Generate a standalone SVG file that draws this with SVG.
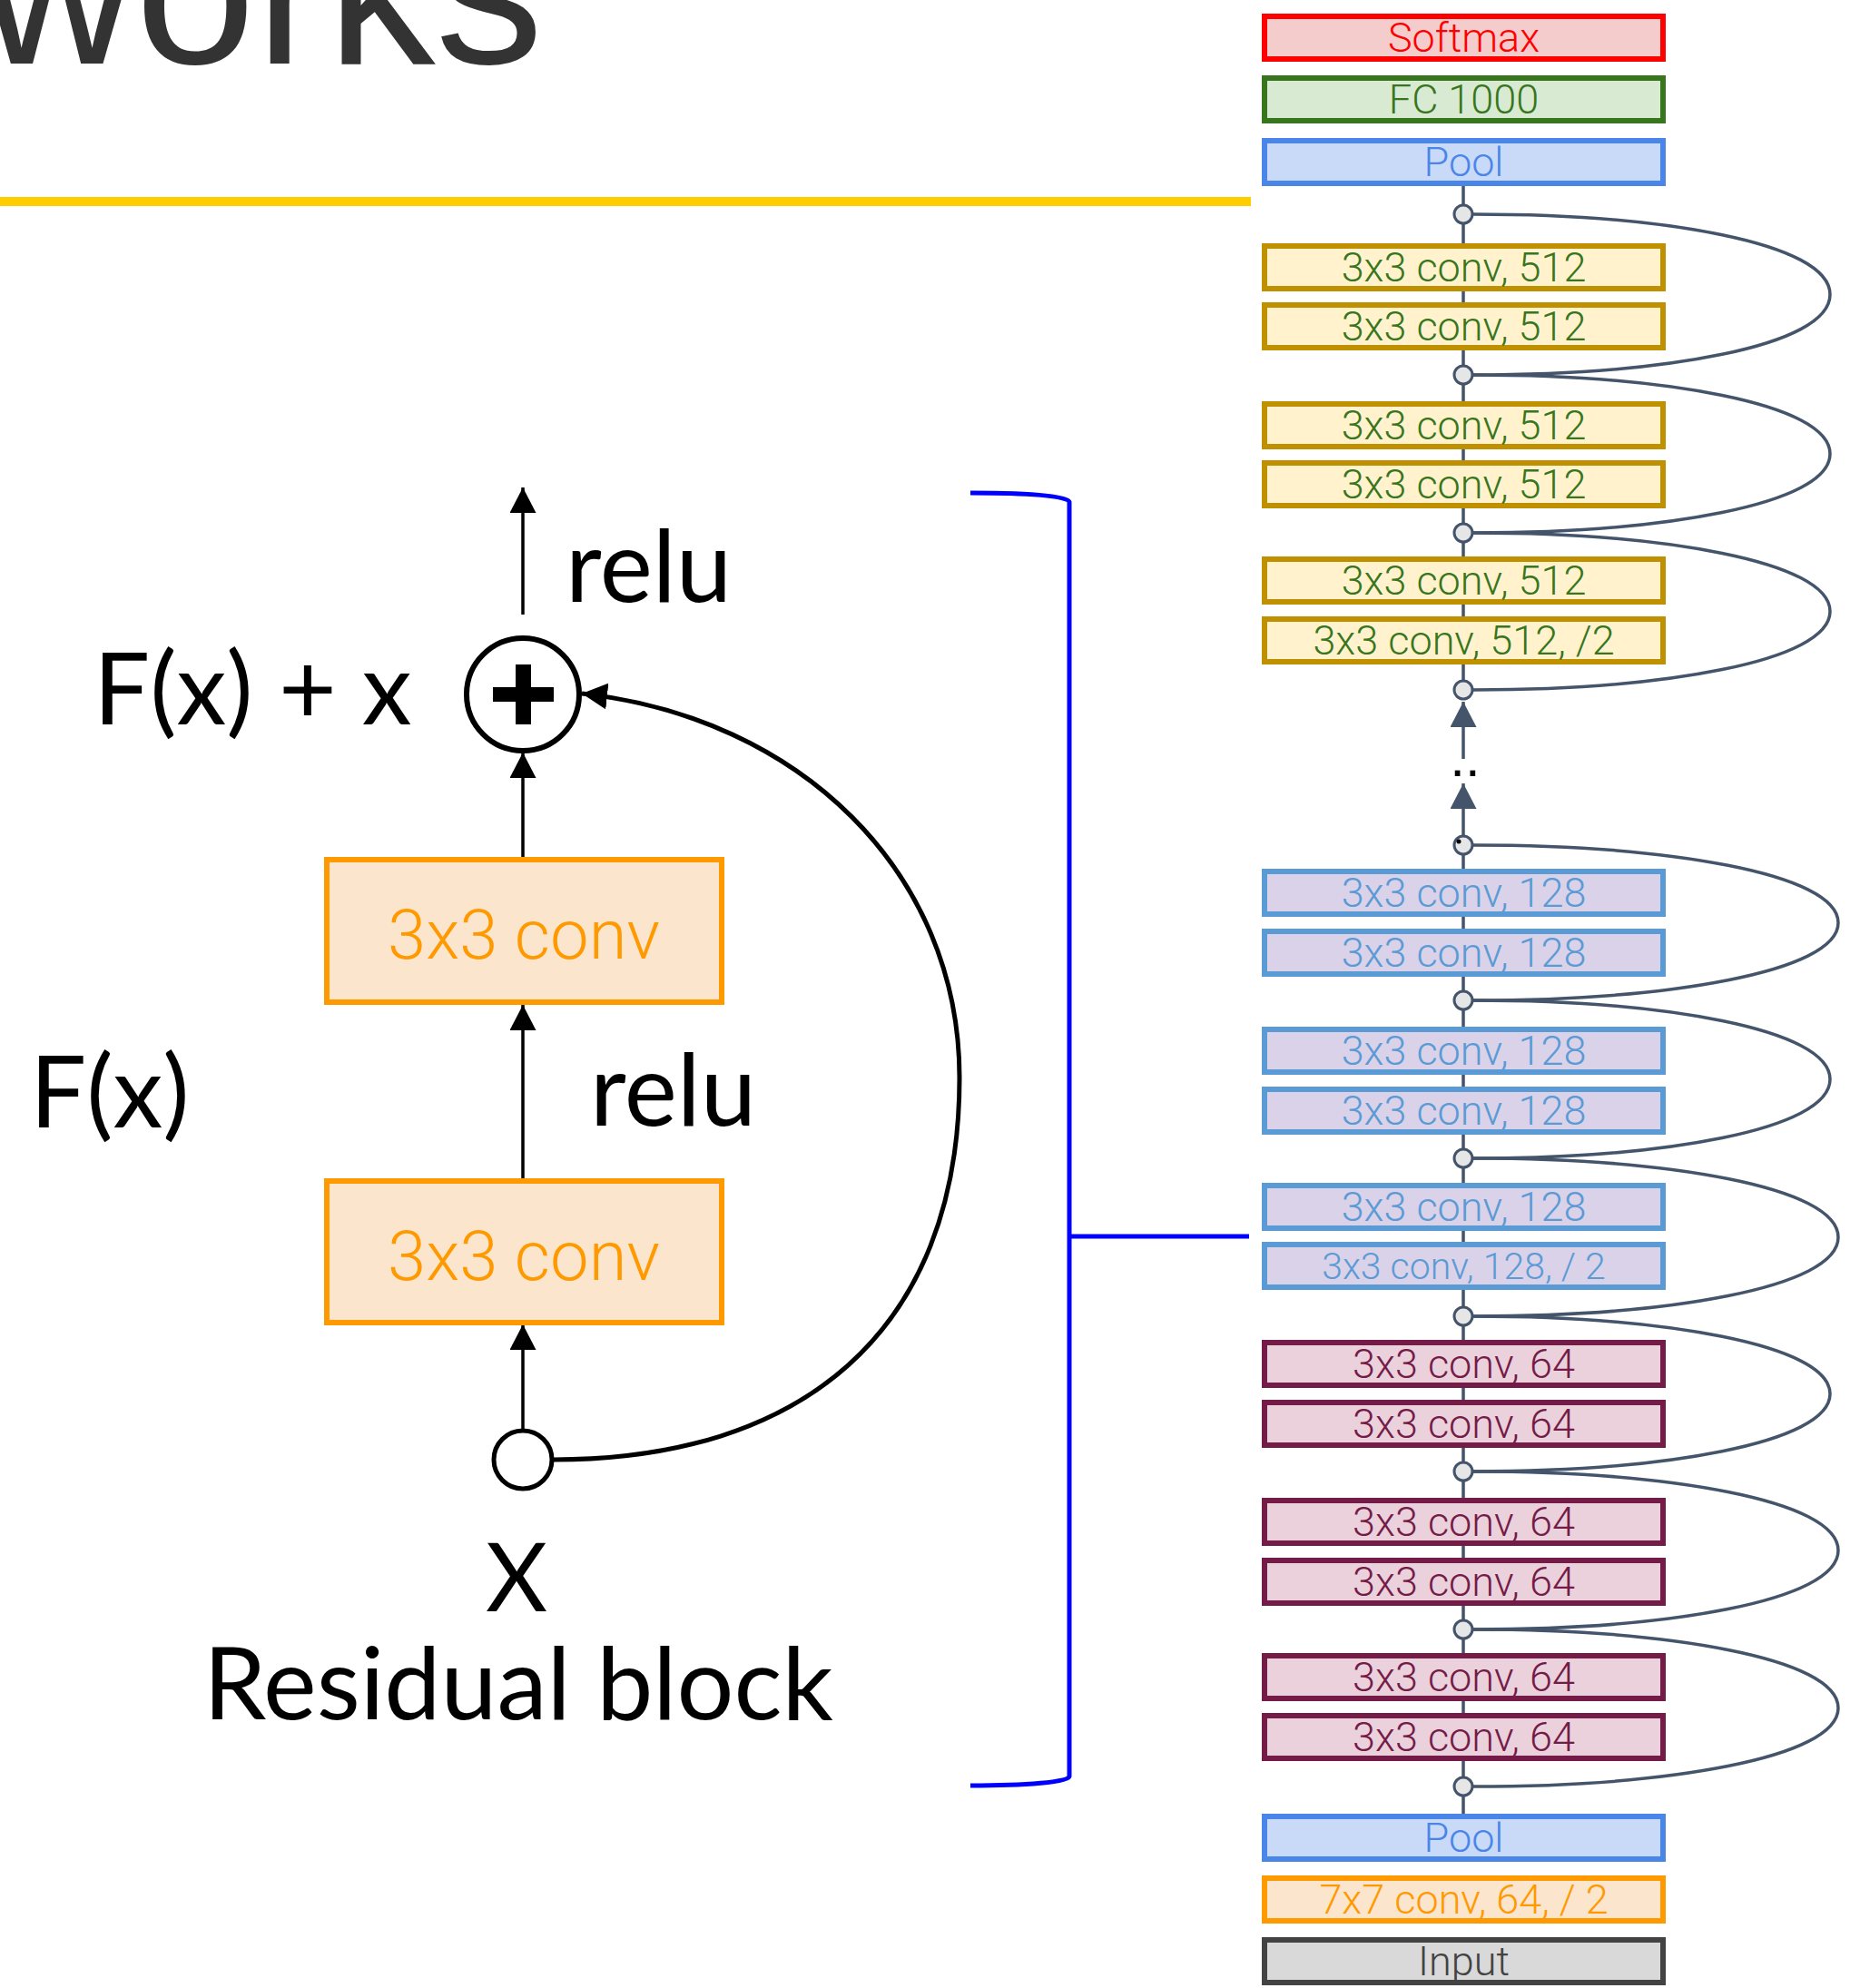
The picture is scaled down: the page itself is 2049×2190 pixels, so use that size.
<svg xmlns="http://www.w3.org/2000/svg" width="2049" height="2190" viewBox="0 0 2049 2190">
<style>
.lbl{font-family:Lato,"Open Sans","Liberation Sans",sans-serif;font-size:110px;fill:#000}
.box rect{stroke-width:6}
.box text{font-family:Roboto,"Liberation Sans",sans-serif;font-weight:300;font-size:45px;text-anchor:middle}
.sm rect{fill:#f4cccc;stroke:#ff0000}.sm text{fill:#ff0000}
.fc rect{fill:#d9ead3;stroke:#38761d}.fc text{fill:#38761d}
.pl rect{fill:#c9daf8;stroke:#4a86e8}.pl text{fill:#4a86e8}
.c512 rect{fill:#fff2cc;stroke:#bf9000}.c512 text{fill:#38761d}
.c128 rect{fill:#d9d2e9;stroke:#5b9bd5}.c128 text{fill:#5b9bd5}
.c64 rect{fill:#ead1dc;stroke:#741b47}.c64 text{fill:#741b47}
.c7 rect{fill:#fce5cd;stroke:#ff9900}.c7 text{fill:#ff9900}
.inp rect{fill:#d9d9d9;stroke:#434343}.inp text{fill:#434343}
.jn{fill:#e6e6e6;stroke:#44546a;stroke-width:3}
.sk{fill:none;stroke:#44546a;stroke-width:3.5}
.blk{fill:none;stroke:#000;stroke-width:3.5}
.curve{fill:none;stroke:#000;stroke-width:5}
.rb rect{fill:#fce5cd;stroke:#ff9900;stroke-width:6}
.rb text{font-family:Roboto,"Liberation Sans",sans-serif;font-weight:300;font-size:76px;fill:#ff9900;text-anchor:middle}
</style>
<defs>
<marker id="ah" markerUnits="userSpaceOnUse" viewBox="0 0 28 29" markerWidth="28" markerHeight="29" refX="28" refY="14.5" orient="auto"><path d="M0,0 L28,14.5 L0,29 z" fill="#000"/></marker>
<marker id="ahs" markerUnits="userSpaceOnUse" viewBox="0 0 28 29" markerWidth="28" markerHeight="29" refX="28" refY="14.5" orient="auto"><path d="M0,0 L28,14.5 L0,29 z" fill="#44546a"/></marker>
</defs>
<rect width="2049" height="2190" fill="#fff"/>
<g id="title">
<text x="-23" y="70" font-family="Liberation Sans,Arial,sans-serif" font-size="238" fill="#333333">works</text>
<rect x="0" y="217" width="1378" height="10" fill="#ffcc00"/>
</g>
<g id="connectors">
<line x1="1612" y1="204" x2="1612" y2="760" class="sk"/>
<line x1="1612" y1="931" x2="1612" y2="1998" class="sk"/>
<line x1="1612" y1="836" x2="1612" y2="773" class="sk" marker-end="url(#ahs)"/>
<line x1="1612" y1="920" x2="1612" y2="863" class="sk" marker-end="url(#ahs)"/>
<path class="sk" d="M1623,236 C1830,236 2016,267 2016,324.5 C2016,382 1830,413 1623,413"/>
<path class="sk" d="M1623,413 C1830,413 2016,444 2016,500 C2016,556 1830,587 1623,587"/>
<path class="sk" d="M1623,587 C1830,587 2016,618 2016,673.5 C2016,729 1830,760 1623,760"/>
<path class="sk" d="M1623,931 C1835,931 2025,962 2025,1016.5 C2025,1071 1835,1102 1623,1102"/>
<path class="sk" d="M1623,1102 C1830,1102 2016,1133 2016,1189 C2016,1245 1830,1276 1623,1276"/>
<path class="sk" d="M1623,1276 C1835,1276 2025,1307 2025,1363 C2025,1419 1835,1450 1623,1450"/>
<path class="sk" d="M1623,1450 C1830,1450 2016,1481 2016,1535.5 C2016,1590 1830,1621 1623,1621"/>
<path class="sk" d="M1623,1621 C1835,1621 2025,1652 2025,1708 C2025,1764 1835,1795 1623,1795"/>
<path class="sk" d="M1623,1795 C1835,1795 2025,1826 2025,1881.5 C2025,1937 1835,1968 1623,1968"/>
<line x1="576" y1="677" x2="576" y2="537" class="blk" marker-end="url(#ah)"/>
<line x1="576" y1="945" x2="576" y2="829" class="blk" marker-end="url(#ah)"/>
<line x1="576" y1="1300" x2="576" y2="1107" class="blk" marker-end="url(#ah)"/>
<line x1="576" y1="1575" x2="576" y2="1459" class="blk" marker-end="url(#ah)"/>
<path class="curve" d="M610,1608 C880,1608 1057,1470 1057,1187 C1057,960 880,790 641,764" marker-end="url(#ah)"/>
<path d="M1069,543 C1130,543 1178,546 1178,553 V1957 C1178,1963 1130,1967 1069,1967 M1178,1362 H1376" fill="none" stroke="#0000ff" stroke-width="5"/>
</g>
<g id="dots"><text x="1614" y="855" font-family="Liberation Sans,sans-serif" font-size="60" text-anchor="middle" fill="#000">..</text></g>
<g id="softmax" class="box sm"><rect x="1393" y="18" width="439" height="47"/><text x="1612.5" y="57">Softmax</text></g>
<g id="fc1000" class="box fc"><rect x="1393" y="86" width="439" height="47"/><text x="1612.5" y="125">FC 1000</text></g>
<g id="pool_top" class="box pl"><rect x="1393" y="155" width="439" height="47"/><text x="1612.5" y="194">Pool</text></g>
<g id="conv512_1" class="box c512"><rect x="1393" y="271" width="439" height="47"/><text x="1612.5" y="310">3x3 conv, 512</text></g>
<g id="conv512_2" class="box c512"><rect x="1393" y="336" width="439" height="47"/><text x="1612.5" y="375">3x3 conv, 512</text></g>
<g id="conv512_3" class="box c512"><rect x="1393" y="445" width="439" height="47"/><text x="1612.5" y="484">3x3 conv, 512</text></g>
<g id="conv512_4" class="box c512"><rect x="1393" y="510" width="439" height="47"/><text x="1612.5" y="549">3x3 conv, 512</text></g>
<g id="conv512_5" class="box c512"><rect x="1393" y="616" width="439" height="47"/><text x="1612.5" y="655">3x3 conv, 512</text></g>
<g id="conv512_6" class="box c512"><rect x="1393" y="682" width="439" height="47"/><text x="1612.5" y="721">3x3 conv, 512, /2</text></g>
<g id="conv128_1" class="box c128"><rect x="1393" y="960" width="439" height="47"/><text x="1612.5" y="999">3x3 conv, 128</text></g>
<g id="conv128_2" class="box c128"><rect x="1393" y="1026" width="439" height="47"/><text x="1612.5" y="1065">3x3 conv, 128</text></g>
<g id="conv128_3" class="box c128"><rect x="1393" y="1134" width="439" height="47"/><text x="1612.5" y="1173">3x3 conv, 128</text></g>
<g id="conv128_4" class="box c128"><rect x="1393" y="1200" width="439" height="47"/><text x="1612.5" y="1239">3x3 conv, 128</text></g>
<g id="conv128_5" class="box c128"><rect x="1393" y="1306" width="439" height="47"/><text x="1612.5" y="1345">3x3 conv, 128</text></g>
<g id="conv128_6" class="box c128"><rect x="1393" y="1371" width="439" height="47"/><text x="1612.5" y="1409" style="font-size:41px">3x3 conv, 128, / 2</text></g>
<g id="conv64_1" class="box c64"><rect x="1393" y="1479" width="439" height="47"/><text x="1612.5" y="1518">3x3 conv, 64</text></g>
<g id="conv64_2" class="box c64"><rect x="1393" y="1545" width="439" height="47"/><text x="1612.5" y="1584">3x3 conv, 64</text></g>
<g id="conv64_3" class="box c64"><rect x="1393" y="1653" width="439" height="47"/><text x="1612.5" y="1692">3x3 conv, 64</text></g>
<g id="conv64_4" class="box c64"><rect x="1393" y="1719" width="439" height="47"/><text x="1612.5" y="1758">3x3 conv, 64</text></g>
<g id="conv64_5" class="box c64"><rect x="1393" y="1824" width="439" height="47"/><text x="1612.5" y="1863">3x3 conv, 64</text></g>
<g id="conv64_6" class="box c64"><rect x="1393" y="1890" width="439" height="47"/><text x="1612.5" y="1929">3x3 conv, 64</text></g>
<g id="pool_bottom" class="box pl"><rect x="1393" y="2001" width="439" height="47"/><text x="1612.5" y="2040">Pool</text></g>
<g id="conv7x7" class="box c7"><rect x="1393" y="2069" width="439" height="47"/><text x="1612.5" y="2108">7x7 conv, 64, / 2</text></g>
<g id="input" class="box inp"><rect x="1393" y="2137" width="439" height="47"/><text x="1612.5" y="2176">Input</text></g>
<g id="junctions">
<circle class="jn" cx="1612" cy="236" r="10"/>
<circle class="jn" cx="1612" cy="413" r="10"/>
<circle class="jn" cx="1612" cy="587" r="10"/>
<circle class="jn" cx="1612" cy="760" r="10"/>
<circle class="jn" cx="1612" cy="931" r="10"/>
<circle cx="1607" cy="927" r="2.5" fill="#000"/>
<circle class="jn" cx="1612" cy="1102" r="10"/>
<circle class="jn" cx="1612" cy="1276" r="10"/>
<circle class="jn" cx="1612" cy="1450" r="10"/>
<circle class="jn" cx="1612" cy="1621" r="10"/>
<circle class="jn" cx="1612" cy="1795" r="10"/>
<circle class="jn" cx="1612" cy="1968" r="10"/>
</g>
<g id="conv_upper" class="rb"><rect x="360" y="947" width="435" height="157"/><text x="577" y="1056">3x3 conv</text></g>
<g id="conv_lower" class="rb"><rect x="360" y="1301" width="435" height="156"/><text x="577" y="1410">3x3 conv</text></g>
<g id="sum">
<circle cx="576" cy="765" r="62" fill="#fff" stroke="#000" stroke-width="6"/>
<rect x="568" y="732" width="17" height="66" fill="#000"/>
<rect x="543" y="757" width="67" height="16" fill="#000"/>
</g>
<g id="input_x"><circle cx="576" cy="1608" r="32" fill="#fff" stroke="#000" stroke-width="5"/></g>
<g id="labels">
<text class="lbl" x="623" y="663">relu</text>
<text class="lbl" x="103" y="798">F(x) + x</text>
<text class="lbl" x="650" y="1240">relu</text>
<text class="lbl" x="33" y="1242">F(x)</text>
<text class="lbl" x="569" y="1775" text-anchor="middle" style="font-size:105px">X</text>
<text class="lbl" x="571" y="1894" text-anchor="middle" style="font-size:111px">Residual block</text>
</g>
</svg>
